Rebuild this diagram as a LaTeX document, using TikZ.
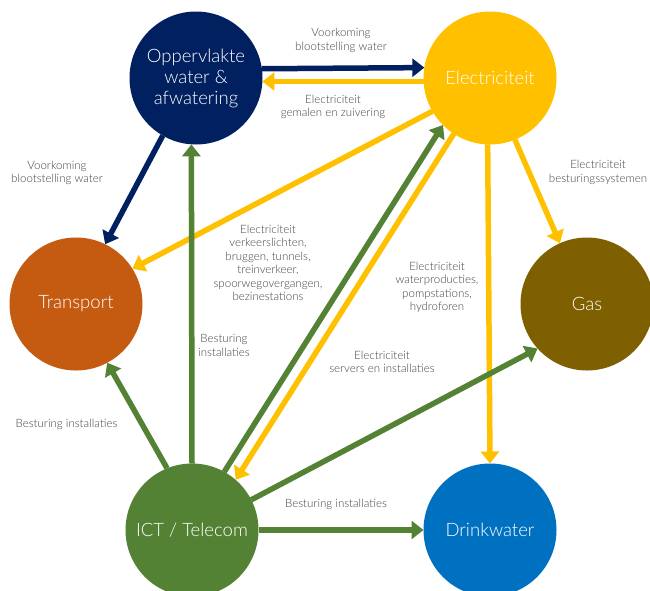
\documentclass[tikz,border=0pt]{standalone}
\usepackage{fontspec}
\setmainfont{Lato Light}
\usetikzlibrary{arrows.meta}
\definecolor{navy}{HTML}{002060}
\definecolor{elecyellow}{HTML}{FFC000}
\definecolor{transorange}{HTML}{C55A11}
\definecolor{gasbrown}{HTML}{7F6000}
\definecolor{ictgreen}{HTML}{548235}
\definecolor{drinkblue}{HTML}{0070C0}
\definecolor{labelgray}{HTML}{404040}
\begin{document}
\begin{tikzpicture}[x=1pt,y=-1pt,
  hub/.style={circle,minimum size=133pt,inner sep=0pt,outer sep=0pt,text=white,font=\fontsize{18.5}{21}\selectfont,align=center},
  lbl/.style={text=labelgray,font=\fontsize{11.5}{13.5}\selectfont,align=center,inner sep=0pt},
  conn/.style={line width=5.5pt,-{Triangle[width=18pt,length=12pt]}},
]
\useasboundingbox (0,0) rectangle (650,590);
\fill[white] (0,0) rectangle (650,590);
\node[hub,fill=navy] (opp) at (196,78) {Oppervlakte\\water \&\\afwatering};
\node[hub,fill=elecyellow] (elec) at (490,78) {Electriciteit};
\node[hub,fill=transorange] (trans) at (76,304) {Transport};
\node[hub,fill=gasbrown] (gas) at (587,304) {Gas};
\node[hub,fill=ictgreen] (ict) at (192,530) {ICT / Telecom};
\node[hub,fill=drinkblue] (drink) at (490,530) {Drinkwater};

% connectors
\draw[conn,navy] (opp.8.6) -- (elec.171.4);
\draw[conn,elecyellow] (elec.183.4) -- (opp.-3.4);
\draw[conn,navy] (opp.240) -- (trans.64.6);
\draw[conn,elecyellow] (elec.210.2) -- (trans.32.3);
\draw[conn,ictgreen] (ict.north) -- (opp.266.6);
\draw[conn,ictgreen] (ict.112.8) -- (trans.298.4);
\draw[conn,ictgreen] (ict.61.6) -- (elec.225.6);
\draw[conn,elecyellow] (elec.237) -- (ict.49.1);
\draw[conn,elecyellow] (elec.268.5) -- (drink.north);
\draw[conn,elecyellow] (elec.292) -- (gas.114);
\draw[conn,ictgreen] (ict.27.7) -- (gas.222.2);
\draw[conn,ictgreen] (ict.east) -- (drink.west);

% labels
\node[lbl] (l1) at (341,40.5) {Voorkoming\\blootstelling water};
\node[lbl] (l2) at (333,107) {Electriciteit\\gemalen en zuivering};
\node[lbl] (l3) at (57,173) {Voorkoming\\blootstelling water};
\node[lbl] (l4) at (268,263) {Electriciteit\\verkeerslichten,\\bruggen, tunnels,\\treinverkeer,\\spoorwegovergangen,\\bezinestations};
\node[lbl] (l5) at (224,345.5) {Besturing\\installaties};
\node[lbl] (l6) at (66.5,424) {Besturing installaties};
\node[lbl] (l7) at (382,362) {Electriciteit\\servers en installaties};
\node[lbl] (l8) at (336,504) {Besturing installaties};
\node[lbl] (l9) at (437,287.5) {Electriciteit\\waterproducties,\\pompstations,\\hydroforen};
\node[lbl] (l10) at (598,172.5) {Electriciteit\\besturingssystemen};
\end{tikzpicture}
\end{document}
